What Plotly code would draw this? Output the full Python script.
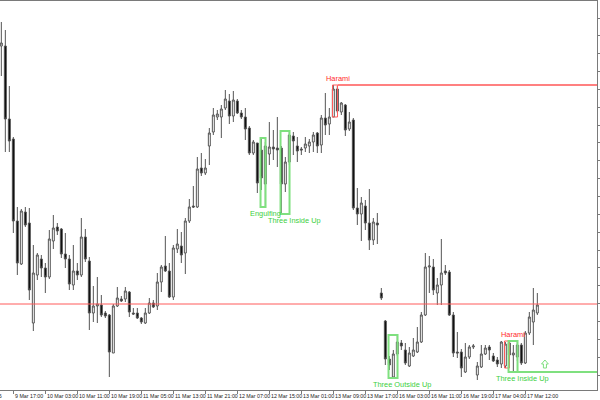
import plotly.graph_objects as go

# ---------------- data (hourly candles) -------------
opens = [354, 354, 281, 261, 179, 136, 188, 177, 77, 125,
         141, 132, 123, 159, 173, 171, 146, 141, 115, 129,
         125, 163, 139, 87, 94, 95, 87, 85, 47, 94,
         101, 101, 108, 87, 87, 82, 77, 87, 97, 94,
         118, 134, 129, 103, 151, 154, 147, 179, 194, 193,
         232, 227, 254, 268, 283, 283, 292, 299, 284, 299,
         287, 283, 272, 247, 257, 250, 216, 246, 253, 252,
         252, 216, 238, 264, 254, 251, 252, 254, 258, 267,
         255, 282, 276, 283, 311, 288, 295, 271, 280, 192,
         186, 194, 177, 160, 177, 107, 79, 41, 23, 46,
         57, 50, 34, 44, 48, 58, 85, 133, 133, 107,
         115, 129, 128, 85, 48, 48, 28, 43, 53, 25,
         33, 46, 53, 44, 40, 36, 34, 57, 45, 43,
         55, 37, 67, 78, 87]
highs = [378, 370, 314, 263, 193, 191, 193, 192, 155, 147,
         145, 137, 170, 185, 177, 172, 167, 145, 155, 137,
         182, 171, 143, 114, 123, 105, 89, 86, 96, 113,
         104, 113, 109, 92, 92, 83, 92, 102, 100, 127,
         135, 164, 137, 155, 171, 168, 182, 201, 214, 243,
         247, 241, 272, 292, 290, 295, 310, 306, 309, 301,
         290, 292, 274, 260, 257, 262, 258, 278, 270, 283,
         254, 243, 269, 268, 263, 253, 263, 261, 268, 268,
         285, 307, 292, 315, 314, 298, 296, 288, 282, 212,
         203, 200, 211, 182, 187, 112, 80, 44, 50, 65,
         60, 57, 53, 62, 73, 88, 147, 144, 141, 122,
         161, 135, 130, 88, 68, 51, 57, 55, 56, 38,
         55, 55, 55, 47, 43, 59, 58, 59, 55, 58,
         57, 69, 88, 112, 107]
lows = [324, 248, 248, 167, 125, 135, 173, 100, 69, 120,
        123, 107, 121, 151, 165, 142, 132, 110, 110, 120,
        123, 138, 70, 78, 77, 83, 82, 23, 47, 93,
        98, 98, 83, 85, 81, 76, 76, 86, 92, 90,
        108, 128, 102, 100, 147, 137, 126, 177, 192, 192,
        224, 225, 235, 265, 280, 262, 290, 276, 278, 286,
        281, 260, 245, 245, 207, 210, 193, 235, 240, 233,
        186, 208, 235, 245, 238, 245, 248, 247, 248, 247,
        247, 265, 265, 283, 287, 285, 264, 269, 190, 175,
        159, 170, 150, 155, 156, 100, 35, 30, 22, 44,
        50, 35, 33, 43, 47, 57, 84, 107, 105, 95,
        95, 125, 84, 43, 42, 23, 27, 41, 51, 20,
        32, 45, 40, 38, 33, 32, 32, 35, 28, 39,
        35, 36, 65, 55, 85]
closes = [357, 281, 259, 179, 137, 189, 175, 110, 127, 145,
          132, 123, 161, 172, 169, 146, 141, 116, 129, 125,
          163, 141, 87, 94, 96, 85, 84, 48, 94, 102,
          99, 109, 88, 86, 82, 78, 87, 97, 93, 118,
          133, 129, 103, 152, 156, 145, 179, 193, 193, 231,
          227, 232, 267, 285, 286, 291, 301, 284, 300, 287,
          283, 271, 247, 258, 217, 222, 254, 253, 251, 250,
          216, 238, 265, 259, 249, 250, 256, 258, 265, 254,
          282, 275, 283, 311, 289, 297, 270, 278, 192, 186,
          197, 177, 160, 178, 175, 102, 41, 35, 46, 58,
          54, 37, 47, 50, 58, 85, 133, 134, 110, 115,
          127, 127, 85, 47, 47, 32, 43, 53, 54, 34,
          46, 52, 50, 39, 36, 58, 56, 45, 47, 55,
          37, 67, 83, 90, 95]

tick_bars = [-5, 3, 11, 19, 27, 35, 43, 51, 59, 67, 75, 83, 91, 99, 107, 115, 123, 131]
tick_texts = ["9 Mar 2026", "9 Mar 17:00", "10 Mar 03:00", "10 Mar 11:00", "10 Mar 19:00",
              "11 Mar 05:00", "11 Mar 13:00", "11 Mar 21:00", "12 Mar 07:00", "12 Mar 15:00",
              "13 Mar 01:00", "13 Mar 09:00", "13 Mar 17:00", "16 Mar 03:00", "16 Mar 11:00",
              "16 Mar 19:00", "17 Mar 04:00", "17 Mar 12:00"]

pattern_names = ["Engulfing", "Three Inside Up", "Harami", "Three Outside Up", "Harami", "Three Inside Up"]
pattern_first = [65, 70, 83, 97, 126, 127]
pattern_last = [66, 72, 84, 99, 127, 129]
pattern_bullish = [True, True, False, True, False, True]
pattern_extended = [False, False, True, False, False, True]

level_price = 96

# ---------------- styling -------------
GREEN = "#7fe07f"
GREEN_TXT = "#3ccf3c"
RED = "#ff5a5a"
RED_LINE = "#ff8080"
RED_TXT = "#ff2a2a"
AXIS = "#7a7a7a"
PX_PER_BAR = 4.0
label_dx = [0.1, 1.2, 0.1, 1.2, 0.8, 1.2]

bars = list(range(len(opens)))

fig = go.Figure()
fig.add_trace(go.Candlestick(
    x=bars, open=opens, high=highs, low=lows, close=closes,
    increasing=dict(line=dict(color="#555555", width=1), fillcolor="#ffffff"),
    decreasing=dict(line=dict(color="#555555", width=1), fillcolor="#000000"),
    whiskerwidth=0, showlegend=False, hoverinfo="skip",
))

shapes = []
annotations = []

# horizontal level line
shapes.append(dict(type="line", xref="paper", yref="y", x0=0, x1=1,
                   y0=level_price, y1=level_price, line=dict(color=RED, width=1)))

for k, name in enumerate(pattern_names):
    s, e = pattern_first[k], pattern_last[k]
    top = max(highs[s:e + 1])
    bot = min(lows[s:e + 1])
    col = GREEN if pattern_bullish[k] else RED
    lw = 2 if pattern_bullish[k] else 1
    shapes.append(dict(type="rect", xref="x", yref="y", x0=s - 0.2, x1=e + 0.05,
                       y0=bot, y1=top, line=dict(color=col, width=lw),
                       fillcolor="rgba(0,0,0,0)"))
    if pattern_extended[k]:
        ly = bot if pattern_bullish[k] else top
        shapes.append(dict(type="line", xref="x", yref="y", x0=e + 0.05, x1=200,
                           y0=ly, y1=ly,
                           line=dict(color=GREEN if pattern_bullish[k] else RED_LINE, width=2)))
    if pattern_bullish[k]:
        annotations.append(dict(x=e + label_dx[k], y=bot, xref="x", yref="y",
                                text=name, showarrow=False, xanchor="center", yanchor="top",
                                font=dict(family="Liberation Sans", size=7.4, color=GREEN_TXT)))
    else:
        annotations.append(dict(x=e + label_dx[k], y=top, xref="x", yref="y",
                                text=name, showarrow=False, xanchor="center", yanchor="bottom",
                                font=dict(family="Liberation Sans", size=7.4, color=RED_TXT)))

# buy arrow after the last pattern
s, e = pattern_first[-1], pattern_last[-1]
ab = min(lows[s:e + 1]) + 4
ax = len(opens) + 0.9
hw, sw, hh, th = 0.85, 0.38, 4, 8
arrow_path = (f"M {ax - sw},{ab} L {ax - sw},{ab + hh} L {ax - hw},{ab + hh} L {ax},{ab + th} "
              f"L {ax + hw},{ab + hh} L {ax + sw},{ab + hh} L {ax + sw},{ab} Z")
shapes.append(dict(type="path", xref="x", yref="y", path=arrow_path,
                   line=dict(color=GREEN, width=1), fillcolor="rgba(0,0,0,0)"))

# time labels
for b, t in zip(tick_bars, tick_texts):
    if b < 0:
        annotations.append(dict(x=0.55, y=0, xref="x", yref="paper", text=t, showarrow=False,
                                xanchor="right", yanchor="top", yshift=-1,
                                font=dict(family="Liberation Sans", size=5.3, color="#222222")))
    else:
        annotations.append(dict(x=b - 0.05, y=0, xref="x", yref="paper", text=t, showarrow=False,
                                xanchor="left", yanchor="top", yshift=-1,
                                font=dict(family="Liberation Sans", size=5.3, color="#222222")))

x_lo = -1.33 / PX_PER_BAR
x_hi = x_lo + 597 / PX_PER_BAR

fig.update_layout(
    width=600, height=400,
    margin=dict(l=0, r=3, t=1, b=10, pad=0, autoexpand=False),
    paper_bgcolor="white", plot_bgcolor="white",
    shapes=shapes, annotations=annotations,
    showlegend=False,
    xaxis=dict(range=[x_lo, x_hi], rangeslider=dict(visible=False), showgrid=False,
               zeroline=False, showline=True, linecolor=AXIS, linewidth=1, mirror=True,
               tickvals=[b for b in tick_bars if b >= 0], ticks="outside", ticklen=3,
               tickcolor=AXIS, showticklabels=False),
    yaxis=dict(range=[10, 399], side="right", showgrid=False, zeroline=False,
               showline=True, linecolor=AXIS, linewidth=1,
               tick0=7.15, dtick=17.85, ticks="outside", ticklen=3, tickcolor=AXIS,
               showticklabels=False),
)

fig.write_html("out.html", config={"displayModeBar": False},
               post_script="document.body.style.margin='0px';document.body.style.overflow='hidden';")
